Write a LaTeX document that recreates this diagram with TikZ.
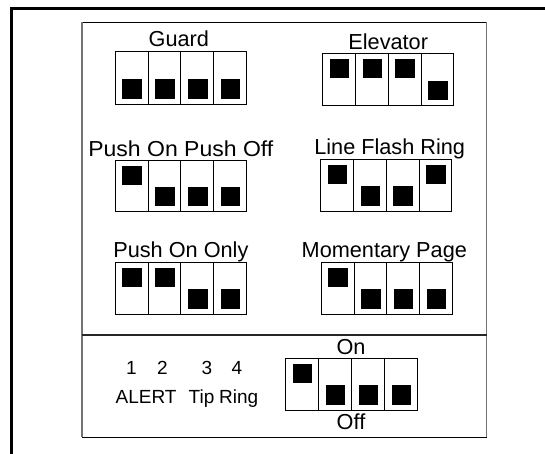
\documentclass[tikz,border=0pt]{standalone}
\usepackage{fontspec}
\usepackage{graphicx}
\setmainfont{Liberation Sans}
\tikzset{
  swbox/.style={draw=black, line width=0.8pt, inner sep=0pt, outer sep=0pt},
  swtitle/.style={font=\fontsize{21.7}{26}\selectfont, inner sep=0pt, anchor=base},
  swsmall/.style={font=\fontsize{19}{23}\selectfont, inner sep=0pt, anchor=base},
  divline/.style={line width=0.8pt},
}
% name, left, top, width, height, states (1 = up, 0 = down)
\newcommand{\dipsw}[6]{%
  \node[swbox, minimum width=#4pt, minimum height=#5pt, anchor=north west] (#1) at (#2,#3) {};
  \foreach \s [count=\i] in {#6} {
    \pgfmathsetmacro\cl{#2+(\i-1)*#4/4}
    \pgfmathsetmacro\cx{#2+(\i-0.5)*#4/4+0.5}
    \pgfmathsetmacro\ty{#3+5.5+(1-\s)*(#5-30.5)}
    \fill (\cx-9.75,\ty) rectangle (\cx+9.75,\ty+19.5);
    \ifnum\i>1 \draw[divline] (\cl,#3) -- (\cl,#3+#5);\fi
  }
}
\begin{document}
\begin{tikzpicture}[x=1pt,y=-1pt]
\useasboundingbox (0,0) rectangle (545,453);
% outer frame (left and top edges)
\draw[line width=2.6pt] (11.3,460) -- (11.3,8.7) -- (550,8.7);
% inner panel
\draw[line width=1pt] (82,22) -- (486.7,22);
\draw[line width=1pt] (82,437) -- (486.7,437);
\draw[line width=1.2pt, black!55] (82,22) -- (82,437);
\draw[line width=1.2pt, black!55] (486.7,22) -- (486.7,437);
\draw[line width=2pt, black!85] (82,334.5) -- (486.7,334.5);

% switches
\dipsw{guard}{115}{51.7}{131.7}{52.4}{0,0,0,0}
\dipsw{elev}{322.7}{53.3}{131}{52.4}{1,1,1,0}
\dipsw{popo}{115}{160}{131.7}{51.8}{1,0,0,0}
\dipsw{lfr}{320.7}{159.3}{131}{52}{1,0,0,1}
\dipsw{poo}{115}{262}{131.7}{52.3}{1,1,0,0}
\dipsw{mp}{321.3}{262}{131}{52.3}{1,0,0,0}
\dipsw{onoff}{285.3}{358.3}{132.4}{51.7}{1,0,0,0}

% titles
\node[swtitle] (guardlbl) at ([xshift=-2pt,yshift=5pt]guard.north) {Guard};
\node[swtitle] (elevlbl) at ([yshift=4pt]elev.north) {Elevator};
\node[swtitle] (popolbl) at ([yshift=3.5pt]popo.north) {\scalebox{1.06}[1]{Push On Push Off}};
\node[swtitle] (lfrlbl) at ([xshift=3.5pt,yshift=4.5pt]lfr.north) {Line Flash Ring};
\node[swtitle] (poolbl) at ([yshift=5pt]poo.north) {Push On Only};
\node[swtitle] (mplbl) at ([xshift=-2.5pt,yshift=5pt]mp.north) {Momentary Page};
\node[swtitle] (onlbl) at ([xshift=-0.5pt,yshift=4pt]onoff.north) {On};
\node[swtitle] (offlbl) at ([xshift=-0.5pt,yshift=-19.3pt]onoff.south) {Off};

% legend
\node[swsmall] (d1) at (131.5,374) {1};
\node[swsmall] (d2) at (162.5,374) {2};
\node[swsmall] (d3) at (207,374) {3};
\node[swsmall] (d4) at (237,374) {4};
\node[swsmall, anchor=base west] (alert) at (115.5,403) {ALERT};
\node[swsmall, anchor=base west] (tip) at (188.5,403) {Tip};
\node[swsmall, anchor=base west] (ring) at (219,403) {Ring};
\end{tikzpicture}
\end{document}
